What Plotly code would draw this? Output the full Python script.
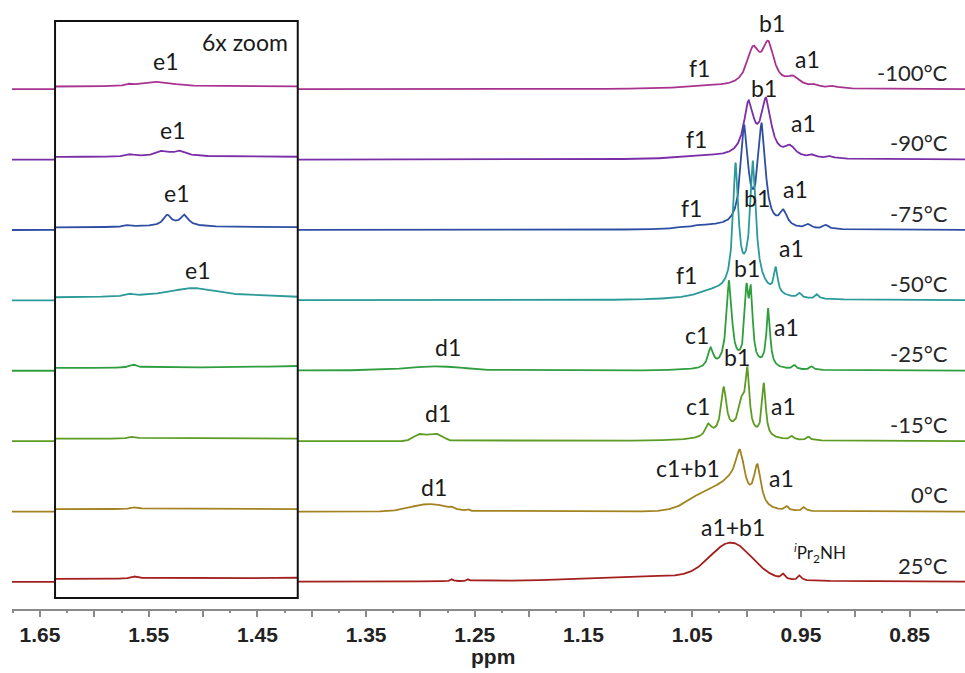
import numpy as np
import plotly.graph_objects as go

# ---------------------------------------------------------------- data
temperatures = ["-100°C", "-90°C", "-75°C", "-50°C", "-25°C", "-15°C", "0°C", "25°C"]
line_colors = ["#a8338f", "#7a2fa6", "#2e4ea3", "#2b9a98",
               "#2f9e3f", "#5c9c22", "#a3831f", "#a3201f"]

# Signals of each spectrum: (shift / ppm, height, FWHM / ppm, shape)
# shape "L" = Lorentzian line, "G" = Gaussian (broad, exchange-averaged humps)
peaks_m100 = [
    (1.567, 0.35, 0.008, "L"),
    (1.540, 0.80, 0.030, "L"),
    (1.035, 2.5, 0.060, "L"),
    (0.994, 35.0, 0.014, "L"),
    (0.980, 40.0, 0.013, "L"),
    (0.957, 9.0, 0.015, "L"),
    (0.937, 2.5, 0.008, "L"),
    (0.920, 2.0, 0.008, "L"),
]
peaks_m90 = [
    (1.567, 0.35, 0.008, "L"),
    (1.537, 0.70, 0.012, "L"),
    (1.521, 0.70, 0.012, "L"),
    (1.530, 0.30, 0.050, "L"),
    (1.035, 3.0, 0.060, "L"),
    (0.998, 52.0, 0.011, "L"),
    (0.982, 55.0, 0.011, "L"),
    (0.960, 10.0, 0.012, "L"),
    (0.939, 3.0, 0.007, "L"),
    (0.923, 2.5, 0.007, "L"),
]
peaks_m75 = [
    (1.568, 0.35, 0.008, "L"),
    (1.533, 1.60, 0.008, "L"),
    (1.517, 1.60, 0.008, "L"),
    (1.525, 0.50, 0.040, "L"),
    (1.058, 1.5, 0.010, "L"),
    (1.043, 1.5, 0.010, "L"),
    (1.030, 3.0, 0.050, "L"),
    (1.002, 98.0, 0.008, "L"),
    (0.986, 100.0, 0.008, "L"),
    (0.966, 15.0, 0.008, "L"),
    (0.943, 4.0, 0.006, "L"),
    (0.927, 4.0, 0.006, "L"),
]
peaks_m50 = [
    (1.567, 0.35, 0.008, "L"),
    (1.509, 1.60, 0.060, "L"),
    (1.030, 7.0, 0.040, "L"),
    (1.010, 122.0, 0.006, "L"),
    (0.994, 114.0, 0.006, "L"),
    (0.995, 20.0, 0.025, "L"),
    (0.973, 25.0, 0.004, "L"),
    (0.951, 4.5, 0.004, "L"),
    (0.935, 4.5, 0.004, "L"),
]
peaks_m25 = [
    (1.564, 0.50, 0.008, "L"),
    (1.350, 0.50, 0.200, "L"),
    (1.285, 4.0, 0.060, "G"),
    (1.033, 19.0, 0.006, "L"),
    (1.016, 85.0, 0.006, "L"),
    (1.000, 66.0, 0.004, "L"),
    (0.996, 64.0, 0.004, "L"),
    (1.000, 5.0, 0.040, "L"),
    (0.980, 58.0, 0.004, "L"),
    (0.956, 4.0, 0.004, "L"),
    (0.940, 3.5, 0.004, "L"),
]
peaks_m15 = [
    (1.564, 0.35, 0.008, "L"),
    (1.300, 7.0, 0.014, "G"),
    (1.285, 7.0, 0.014, "G"),
    (1.035, 12.0, 0.007, "L"),
    (1.021, 45.0, 0.006, "L"),
    (1.004, 30.0, 0.008, "L"),
    (0.999, 55.0, 0.004, "L"),
    (1.010, 8.0, 0.040, "L"),
    (0.984, 53.0, 0.004, "L"),
    (0.958, 3.5, 0.004, "L"),
    (0.943, 3.5, 0.004, "L"),
]
peaks_0 = [
    (1.562, 0.35, 0.008, "L"),
    (1.292, 7.5, 0.040, "G"),
    (1.271, 1.5, 0.003, "L"),
    (1.256, 1.5, 0.003, "L"),
    (1.030, 22.0, 0.045, "G"),
    (1.012, 12.0, 0.020, "G"),
    (1.006, 40.0, 0.010, "L"),
    (0.990, 41.0, 0.008, "L"),
    (0.963, 4.0, 0.004, "L"),
    (0.947, 4.0, 0.004, "L"),
]
peaks_25 = [
    (1.562, 0.40, 0.008, "L"),
    (1.271, 2.0, 0.003, "L"),
    (1.256, 2.0, 0.003, "L"),
    (1.080, 6.0, 0.150, "L"),
    (1.014, 36.0, 0.045, "G"),
    (0.966, 5.0, 0.004, "L"),
    (0.951, 5.0, 0.004, "L"),
]
spectra_peaks = [peaks_m100, peaks_m90, peaks_m75, peaks_m50,
                 peaks_m25, peaks_m15, peaks_0, peaks_25]

# Peak assignments: (text, shift / ppm, height in stacked units)
peak_labels = [
    ("b1", 0.977, 586), ("f1", 1.043, 541), ("a1", 0.944, 550), ("e1", 1.535, 548),
    ("b1", 0.984, 521), ("a1", 0.948, 486), ("f1", 1.046, 470), ("e1", 1.528, 479),
    ("b1", 0.990, 411), ("a1", 0.955, 420), ("f1", 1.051, 401), ("e1", 1.524, 416),
    ("b1", 1.000, 341), ("a1", 0.959, 361), ("f1", 1.055, 334), ("e1", 1.505, 339),
    ("c1", 1.046, 274), ("b1", 1.009, 252), ("a1", 0.963, 282), ("d1", 1.275, 262),
    ("c1", 1.045, 203), ("a1", 0.966, 203), ("d1", 1.284, 196),
    ("c1+b1", 1.054, 141), ("a1", 0.968, 131), ("d1", 1.288, 122),
    ("a1+b1", 1.012, 82),
]
amine_label = ("<sup><i>i</i></sup>Pr<sub>2</sub>NH", 0.932, 56)

# axis ticks: labelled every 0.1 ppm, long ticks every 0.05, short every 0.025
major_ticks = [round(1.65 - 0.1 * k, 2) for k in range(9)]
major_labels = [f"{v:.2f}" for v in major_ticks]
half_ticks = [round(1.60 - 0.1 * k, 2) for k in range(8)]
quarter_ticks = [round(1.675 - 0.05 * k, 3) for k in range(18)]

# ---------------------------------------------------------------- layout constants
X_MAX, X_MIN = 1.6758, 0.799           # reversed chemical-shift axis
BOX_LEFT, BOX_RIGHT = 1.6362, 1.4129   # expanded (6x) region
ZOOM = 6.0
BOX_LIFT = 2.5
BASE0, STEP = 27.0, 70.4               # stacking of the spectra
Y_TOP = 609.0


def line_shape(ppm, peaks):
    y = np.zeros_like(ppm)
    for centre, height, fwhm, shape in peaks:
        if shape == "L":
            hw = fwhm / 2.0
            y += height * hw ** 2 / ((ppm - centre) ** 2 + hw ** 2)
        else:
            sigma = fwhm / 2.3548
            y += height * np.exp(-0.5 * ((ppm - centre) / sigma) ** 2)
    return y


ppm = np.linspace(X_MIN, X_MAX, 4000)
fig = go.Figure()

n = len(temperatures)
for i, (label, peaks, color) in enumerate(zip(temperatures, spectra_peaks, line_colors)):
    base = BASE0 + STEP * (n - 1 - i)
    signal = line_shape(ppm, peaks)
    left = ppm >= BOX_LEFT
    inside = (ppm <= BOX_LEFT + 0.0004) & (ppm >= BOX_RIGHT - 0.0004)
    right = ppm <= BOX_RIGHT
    segs = [
        (ppm[left], base + signal[left]),
        (ppm[inside], base + BOX_LIFT + ZOOM * signal[inside]),
        (ppm[right], base + signal[right]),
    ]
    for xs, ys in segs:
        fig.add_trace(go.Scatter(x=xs, y=ys, mode="lines",
                                 line=dict(color=color, width=1.8),
                                 hoverinfo="skip", showlegend=False, name=label))

# invisible carrier for the secondary (short-tick) axis
fig.add_trace(go.Scatter(x=[X_MAX, X_MIN], y=[0, 0], xaxis="x2", mode="lines",
                         line=dict(width=0), hoverinfo="skip", showlegend=False))

annotations = []
label_font = dict(family="Lato, 'Open Sans', sans-serif", size=23, color="#1a1a1a")
for text, x, y in peak_labels:
    annotations.append(dict(x=x, y=y, xref="x", yref="y", text=text, showarrow=False,
                            xanchor="center", yanchor="middle", font=label_font))
annotations.append(dict(x=amine_label[1], y=amine_label[2], xref="x", yref="y",
                        text=amine_label[0], showarrow=False, xanchor="center",
                        yanchor="middle",
                        font=dict(family="Lato, sans-serif", size=17, color="#1a1a1a")))
for i, label in enumerate(temperatures):
    base = BASE0 + STEP * (n - 1 - i)
    annotations.append(dict(x=0.984, y=base + 17, xref="paper", yref="y", text=label,
                            showarrow=False, xanchor="right", yanchor="middle",
                            font=dict(family="Lato, sans-serif", size=22, color="#262626")))
annotations.append(dict(x=1.461, y=567, xref="x", yref="y", text="6x zoom",
                        showarrow=False, xanchor="center", yanchor="middle", font=label_font))
annotations.append(dict(x=0.5047, y=-0.0788, xref="paper", yref="paper", text="ppm",
                        showarrow=False, xanchor="center", yanchor="middle",
                        font=dict(family="'Liberation Sans', Arial, sans-serif", size=21,
                                  color="#222222", weight="bold")))

axis_grey = "#8a8a8a"
fig.update_layout(
    width=965, height=673,
    margin=dict(l=12, r=0, t=0, b=64),
    plot_bgcolor="white", paper_bgcolor="white",
    showlegend=False,
    annotations=annotations,
    shapes=[dict(type="rect", xref="x", yref="y", x0=BOX_LEFT, x1=BOX_RIGHT,
                 y0=11, y1=588, line=dict(color="#111111", width=2), layer="above")],
    xaxis=dict(
        range=[X_MAX, X_MIN], showgrid=False, zeroline=False,
        tickmode="array", tickvals=major_ticks, ticktext=major_labels,
        ticks="outside", ticklen=6, tickwidth=1.5, tickcolor=axis_grey,
        showline=True, linecolor=axis_grey, linewidth=2,
        minor=dict(tickmode="array", tickvals=half_ticks, ticks="outside",
                   ticklen=6, tickwidth=1.5, tickcolor=axis_grey, showgrid=False),
        tickfont=dict(family="'Liberation Sans', Arial, sans-serif", size=21,
                      color="#222222", weight="bold"),
    ),
    xaxis2=dict(
        range=[X_MAX, X_MIN], overlaying="x", anchor="y", side="bottom",
        showgrid=False, zeroline=False, showline=False, showticklabels=False,
        tickmode="array", tickvals=quarter_ticks, ticks="outside", ticklen=3,
        tickwidth=1.5, tickcolor=axis_grey,
    ),
    yaxis=dict(range=[0, Y_TOP], visible=False, showgrid=False, zeroline=False),
)

fig.write_html("out.html")
